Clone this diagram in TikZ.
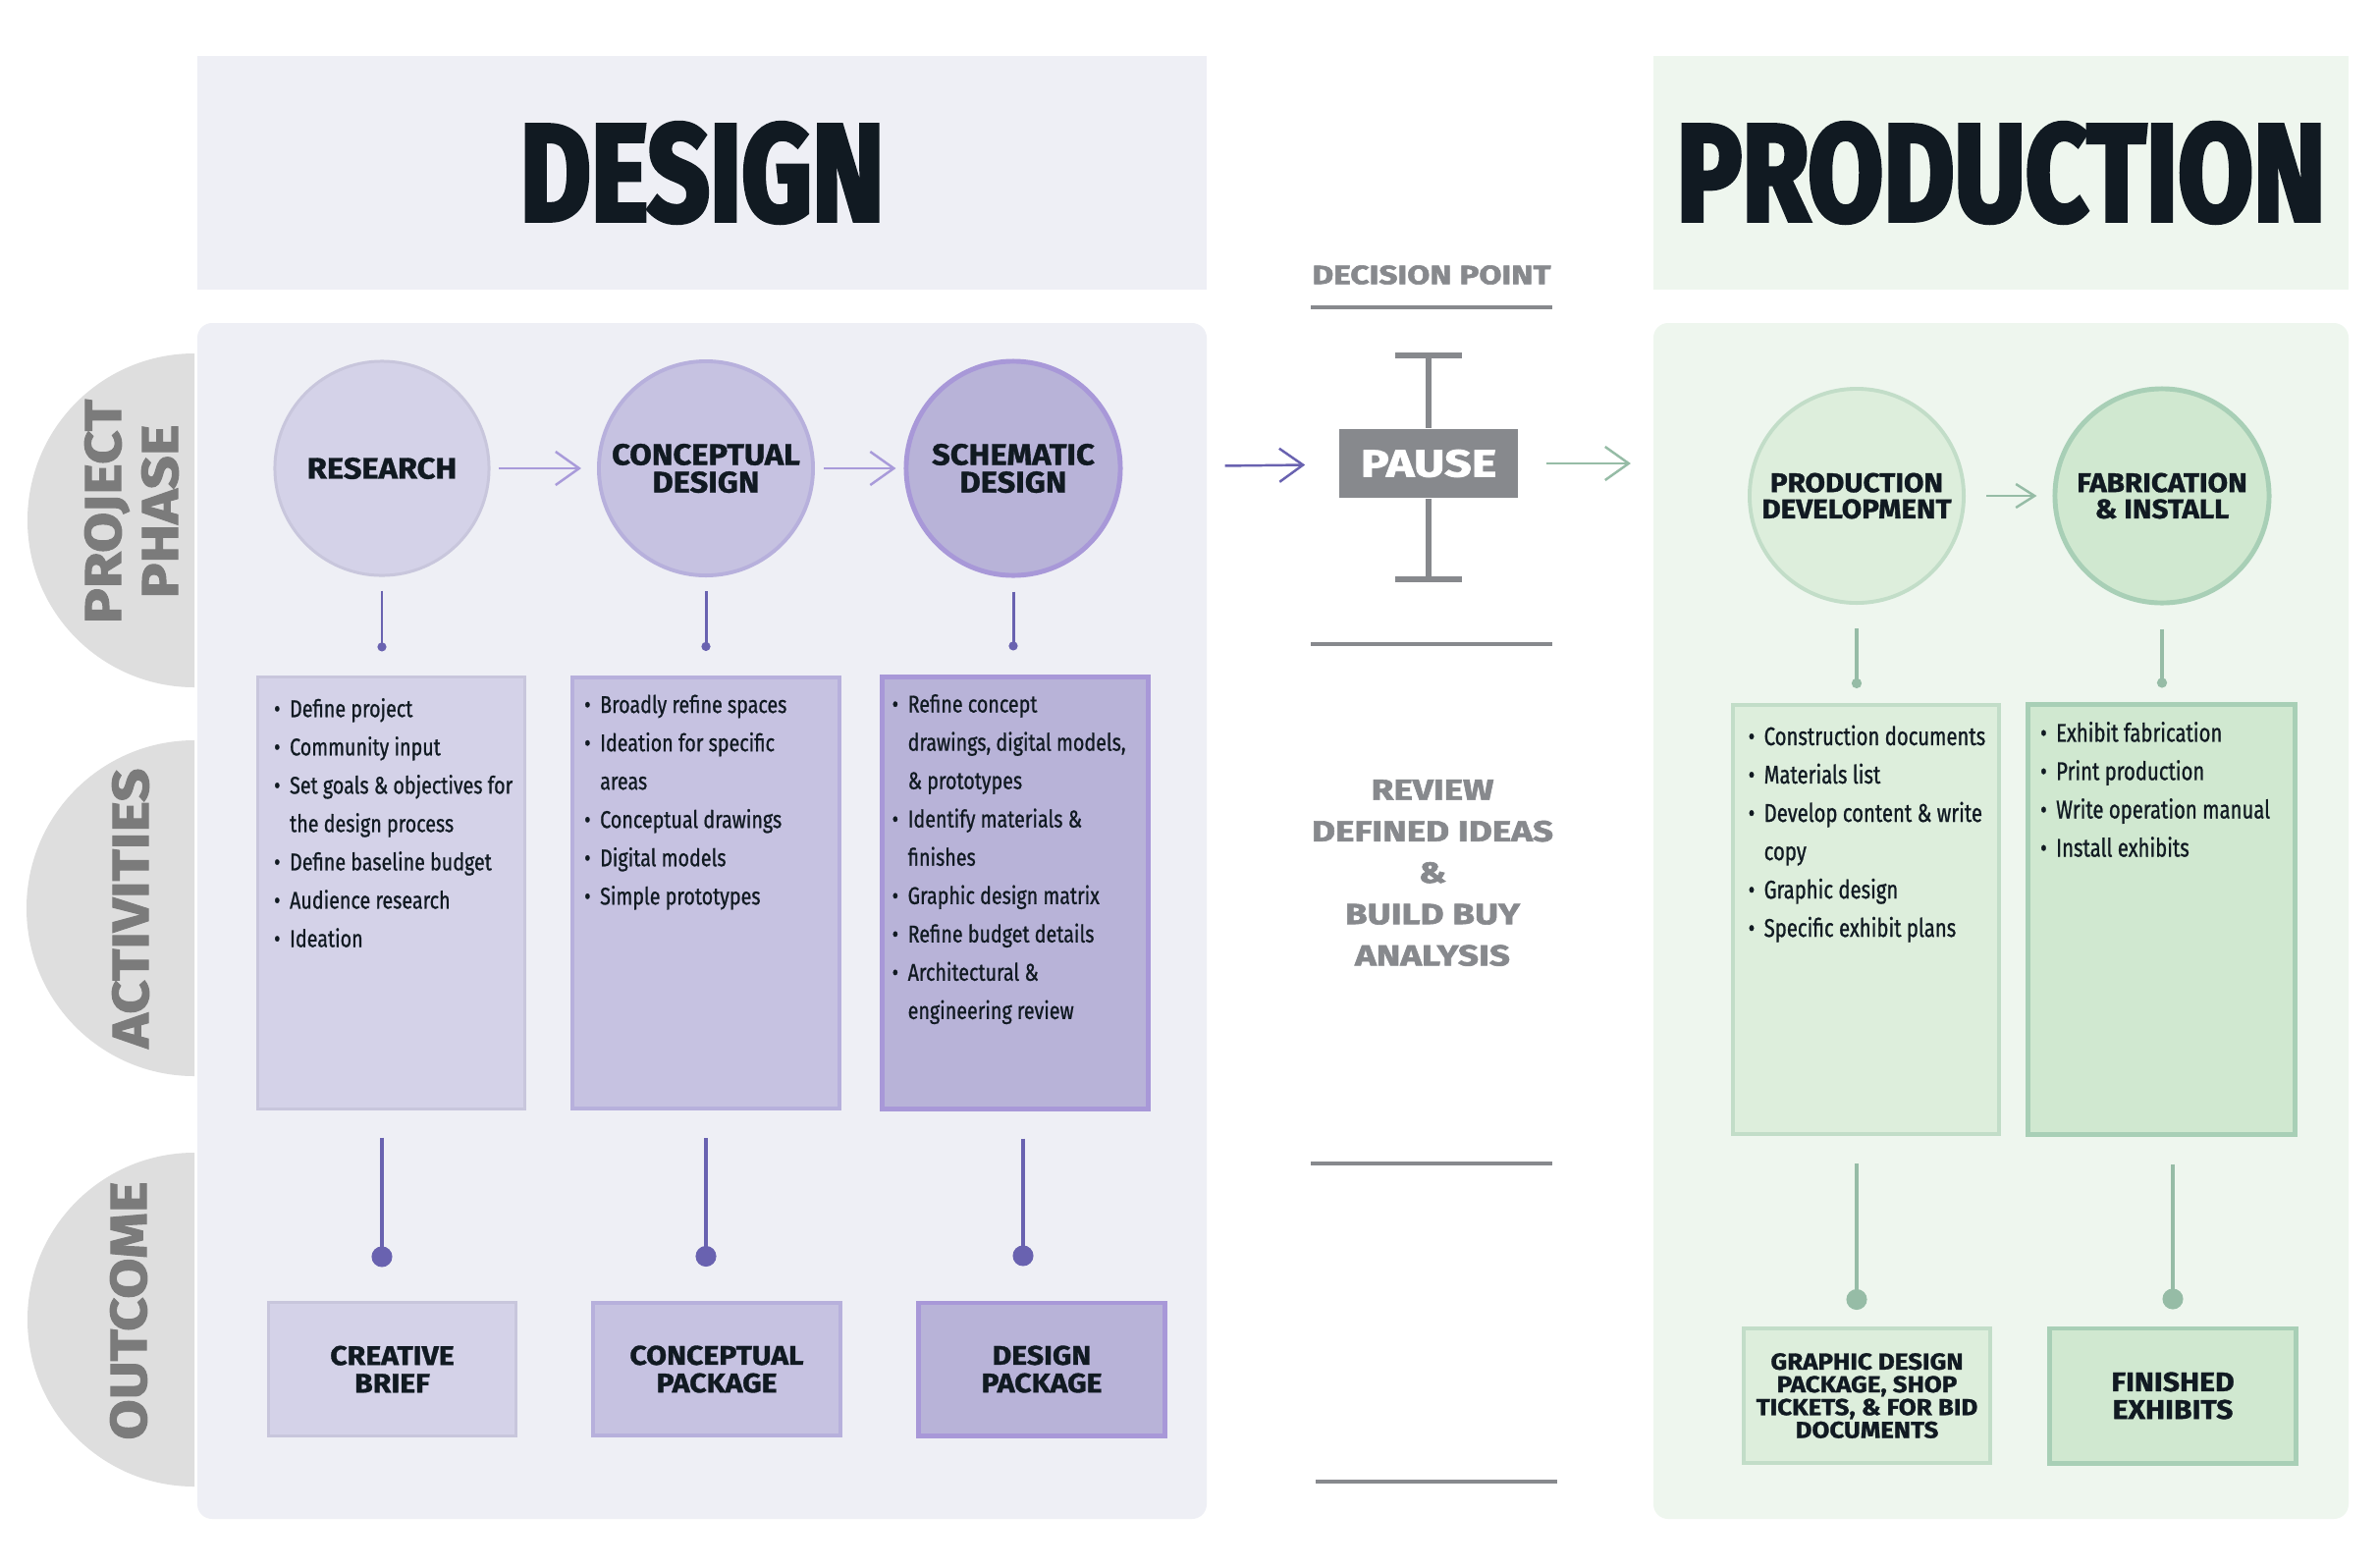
\documentclass[tikz,border=0pt]{standalone}
\usepackage{fontspec}
\usetikzlibrary{arrows.meta,calc}
\setmainfont{Fira Sans}
\newfontfamily\titlefont[FakeStretch=0.79,FakeBold=3]{Fira Sans}
\newfontfamily\sidefont[FakeStretch=1.15,FakeBold=2]{Fira Sans}
\newfontfamily\phasefont[FakeStretch=1.08,FakeBold=1.2]{Fira Sans}
\newfontfamily\outfont[FakeStretch=1.1,FakeBold=1.2]{Fira Sans}
\newfontfamily\widefont[FakeStretch=1.25,FakeBold=2]{Fira Sans}
\newfontfamily\listfont[FakeStretch=0.8,FakeBold=0.8]{Fira Sans}
\newfontfamily\plistfont[FakeStretch=0.78,FakeBold=0.9]{Fira Sans}
\definecolor{dbg}{HTML}{EEEFF5}
\definecolor{pbg}{HTML}{EEF6EE}
\definecolor{disc}{HTML}{DEDEDE}
\definecolor{sidetxt}{HTML}{7B7B7B}
\definecolor{ink}{HTML}{111A22}
\definecolor{resfill}{HTML}{D4D2E8}
\definecolor{resline}{HTML}{C8C6DC}
\definecolor{confill}{HTML}{C6C2E1}
\definecolor{conline}{HTML}{B7B0DC}
\definecolor{schfill}{HTML}{B8B3D8}
\definecolor{schline}{HTML}{A898D8}
\definecolor{arrowlt}{HTML}{A99BDA}
\definecolor{purp}{HTML}{6962B0}
\definecolor{pdfill}{HTML}{DDEEDC}
\definecolor{pdline}{HTML}{C2DDC8}
\definecolor{fabfill}{HTML}{D0E8D0}
\definecolor{fabline}{HTML}{A8CFB6}
\definecolor{grn}{HTML}{96BCA6}
\definecolor{midgray}{HTML}{87898D}
\newcommand\bl{\makebox[1.6mm][l]{\textbullet}}
\newcommand\ind{\hspace*{1.6mm}}
\begin{document}
\begin{tikzpicture}[x=0.01cm,y=-0.01cm,
  title/.style={text=ink,inner sep=0pt,font=\titlefont\bfseries\fontsize{40}{40}\selectfont},
  side/.style={text=sidetxt,rotate=90,align=center,inner sep=0pt,font=\sidefont\bfseries\fontsize{14.8}{16.5}\selectfont},
  phase/.style={circle,minimum size=2.18cm,inner sep=0pt,align=center,text=ink,font=\phasefont\bfseries\fontsize{8.6}{8}\selectfont},
  pphase/.style={phase,font=\phasefont\bfseries\fontsize{7.8}{7.6}\selectfont},
  actbox/.style={rectangle,minimum width=2.71cm,minimum height=4.39cm,inner sep=0pt},
  outbox/.style={rectangle,minimum width=2.51cm,minimum height=1.35cm,inner sep=0pt,align=center,text=ink,font=\outfont\bfseries\fontsize{7.8}{8}\selectfont},
  items/.style={anchor=north west,inner sep=0pt,align=left,text=ink,font=\listfont\fontsize{7}{11.1}\selectfont},
  pitems/.style={items,font=\plistfont\fontsize{7.4}{11.1}\selectfont},
  flow/.style={arrowlt,line width=0.7pt,-{Straight Barb[length=2.4mm,width=3.4mm]}},
  stem/.style={purp,line width=0.85pt,-{Circle[length=0.9mm]},shorten <=1.4mm,shorten >=2.5mm},
  longstem/.style={purp,line width=1.3pt,-{Circle[length=2.1mm]},shorten <=2.8mm,shorten >=3.5mm},
  gray label/.style={text=midgray,align=center,inner sep=0pt,font=\widefont\bfseries\fontsize{7.6}{7.6}\selectfont}]
\fill[white] (0,0) rectangle (2423,1596);
\fill[disc] (198,360) arc[start angle=270,end angle=90,radius=170]--cycle;
\fill[disc] (198,754) arc[start angle=270,end angle=90,radius=171]--cycle;
\fill[disc] (198,1174) arc[start angle=270,end angle=90,radius=170]--cycle;
\fill[dbg] (201,57) rectangle (1229,295);
\fill[pbg] (1684,57) rectangle (2392,295);
\fill[dbg,rounded corners=1.5mm] (201,329) rectangle (1229,1547);
\fill[pbg,rounded corners=1.5mm] (1684,329) rectangle (2392,1547);
\node[title] (dtitle) at (715,176) {DESIGN};
\node[title] (ptitle) at (2038,176) {PRODUCTION};
\node[side] (lphase) at (134,521) {PROJECT\\PHASE};
\node[side] (lact) at (133,925) {ACTIVITIES};
\node[side] (lout) at (131,1335) {OUTCOME};
\node[phase,fill=resfill,draw=resline,line width=0.85pt] (res) at (389,477) {RESEARCH};
\node[phase,fill=confill,draw=conline,line width=1.1pt] (con) at (719,477) {CONCEPTUAL\\DESIGN};
\node[phase,fill=schfill,draw=schline,line width=1.4pt] (sch) at (1032,477) {SCHEMATIC\\DESIGN};
\node[pphase,fill=pdfill,draw=pdline,line width=1.1pt] (pd) at (1891,505) {PRODUCTION\\DEVELOPMENT};
\node[pphase,fill=fabfill,draw=fabline,line width=1.4pt] (fab) at (2202,505) {FABRICATION\\\& INSTALL};
\node[actbox,fill=resfill,draw=resline,line width=0.85pt] (resact) at (398.5,909.5) {};
\node[actbox,fill=confill,draw=conline,line width=1.1pt] (conact) at (719,909.5) {};
\node[actbox,fill=schfill,draw=schline,line width=1.4pt] (schact) at (1034,909.5) {};
\node[actbox,fill=pdfill,draw=pdline,line width=1.1pt,minimum height=4.37cm] (pdact) at (1900.5,936.5) {};
\node[actbox,fill=fabfill,draw=fabline,line width=1.4pt,minimum height=4.37cm] (fabact) at (2201.5,936.5) {};
\node[items] (reslist) at ($(resact.north west)+(17,22)$) {\bl Define project\\\bl Community input\\\bl Set goals \& objectives for\\\ind the design process\\\bl Define baseline budget\\\bl Audience research\\\bl Ideation};
\node[items] (conlist) at ($(conact.north west)+(13,19)$) {\bl Broadly refine spaces\\\bl Ideation for specific\\\ind areas\\\bl Conceptual drawings\\\bl Digital models\\\bl Simple prototypes};
\node[items] (schlist) at ($(schact.north west)+(12,19)$) {\bl Refine concept\\\ind drawings, digital models,\\\ind \& prototypes\\\bl Identify materials \&\\\ind finishes\\\bl Graphic design matrix\\\bl Refine budget details\\\bl Architectural \&\\\ind engineering review};
\node[pitems] (pdlist) at ($(pdact.north west)+(17,22)$) {\bl Construction documents\\\bl Materials list\\\bl Develop content \& write\\\ind copy\\\bl Graphic design\\\bl Specific exhibit plans};
\node[pitems] (fablist) at ($(fabact.north west)+(14,19)$) {\bl Exhibit fabrication\\\bl Print production\\\bl Write operation manual\\\bl Install exhibits};
\node[outbox,fill=resfill,draw=resline,line width=0.85pt] (resout) at (399.5,1394.5) {CREATIVE\\BRIEF};
\node[outbox,fill=confill,draw=conline,line width=1.1pt] (conout) at (730,1394.5) {CONCEPTUAL\\PACKAGE};
\node[outbox,fill=schfill,draw=schline,line width=1.4pt] (schout) at (1061,1394.5) {DESIGN\\PACKAGE};
\node[outbox,fill=pdfill,draw=pdline,line width=1.1pt,minimum height=1.37cm,font=\outfont\bfseries\fontsize{6.7}{6.6}\selectfont] (pdout) at (1901.5,1421.5) {GRAPHIC DESIGN\\PACKAGE, SHOP\\TICKETS, \& FOR BID\\DOCUMENTS};
\node[outbox,fill=fabfill,draw=fabline,line width=1.4pt,minimum height=1.37cm] (fabout) at (2213,1421.5) {FINISHED\\EXHIBITS};
\node[gray label] (dp) at (1458,280) {DECISION POINT};
\node[fill=midgray,minimum width=1.82cm,minimum height=0.7cm,inner sep=0pt,text=white,font=\widefont\bfseries\fontsize{11}{11}\selectfont] (pause) at (1455,472) {PAUSE};
\coordinate (ptop) at (1455,362);
\coordinate (pbot) at (1455,590);
\draw[midgray,line width=1.7pt] (ptop) -- (pause.north) (pause.south) -- (pbot);
\draw[midgray,line width=1.5pt] ([xshift=-0.34cm]ptop) -- ([xshift=0.34cm]ptop);
\draw[midgray,line width=1.5pt] ([xshift=-0.34cm]pbot) -- ([xshift=0.34cm]pbot);
\draw[midgray,line width=1.4pt] (1335,313) -- (1581,313);
\draw[midgray,line width=1.4pt] (1335,656) -- (1581,656);
\draw[midgray,line width=1.4pt] (1335,1185) -- (1581,1185);
\draw[midgray,line width=1.4pt] (1340,1509) -- (1586,1509);
\node[gray label,font=\widefont\bfseries\fontsize{8.4}{12}\selectfont] (review) at (1459,889) {REVIEW\\DEFINED IDEAS\\\&\\BUILD BUY\\ANALYSIS};
\draw[flow,shorten <=0.08cm,shorten >=0.16cm] (res) -- (con);
\draw[flow,shorten <=0.09cm,shorten >=0.08cm] (con) -- (sch);
\draw[flow,purp,shorten <=1.04cm,shorten >=0.34cm] (sch) -- (pause);
\draw[flow,grn,shorten <=0.28cm,shorten >=1.19cm] (pause.east) -- (pause.east -| pd.west);
\draw[flow,grn,-{Straight Barb[length=1.9mm,width=2.4mm]},shorten <=0.21cm,shorten >=0.16cm] (pd) -- (fab);
\draw[stem] (res.south) -- (res.south |- resact.north);
\draw[stem] (con.south) -- (con.south |- conact.north);
\draw[stem] (sch.south) -- (sch.south |- schact.north);
\draw[stem,grn,line width=1.1pt,shorten <=2.4mm,shorten >=1.5mm,-{Circle[length=1mm]}] (pd.south) -- (pd.south |- pdact.north);
\draw[stem,grn,line width=1.1pt,shorten <=2.4mm,shorten >=1.5mm,-{Circle[length=1mm]}] (fab.south) -- (fab.south |- fabact.north);
\draw[longstem] (resact.south -| res) -- (res |- resout.north);
\draw[longstem] (conact.south -| con) -- (con |- conout.north);
\draw[longstem] ([xshift=0.1cm]schact.south -| sch) -- ([xshift=0.1cm]sch |- schout.north);
\draw[longstem,grn,shorten >=1.7mm] (pdact.south -| pd) -- (pd |- pdout.north);
\draw[longstem,grn,shorten >=1.7mm] (fabact.south -| fabout) -- (fabout.north);
\pgfresetboundingbox
\path[use as bounding box] (0,0) rectangle (2423,1596);
\end{tikzpicture}
\end{document}
